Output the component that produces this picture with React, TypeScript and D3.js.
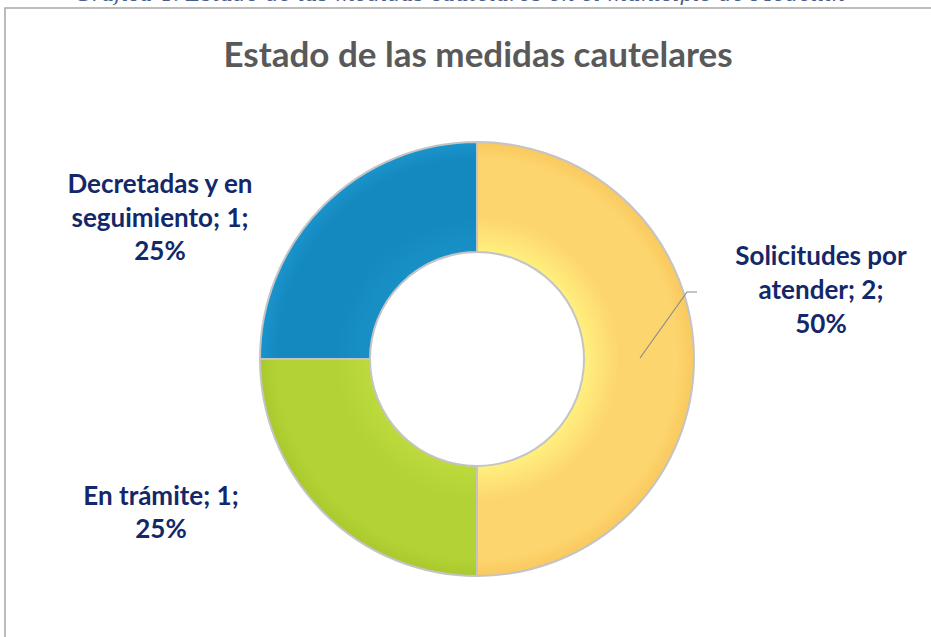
import React, { useEffect, useRef } from 'react';
import * as d3 from 'd3';

const categories = ['Solicitudes por atender', 'En trámite', 'Decretadas y en seguimiento'];
const values = [2, 1, 1];
const percents = ['50%', '25%', '25%'];
const labelLines = [
  ['Solicitudes por', 'atender; 2;', '50%'],
  ['En trámite; 1;', '25%'],
  ['Decretadas y en', 'seguimiento; 1;', '25%'],
];
const sliceColors = ['#FDD56E', '#B2D235', '#1489BF'];
const sliceLight = ['#FFF07E', '#BCDA3C', '#1890C6'];
const sliceDark = ['#F9C95E', '#A9C92E', '#1A93CC'];

const title = 'Estado de las medidas cautelares';
const caption = 'Gráfica 4. Estado de las medidas cautelares en el municipio de Medellín';

const App: React.FC = () => {
  const svgRef = useRef<SVGSVGElement>(null);

  useEffect(() => {
    if (!svgRef.current) return;
    const width = 931;
    const height = 637;
    const cx = 477;
    const cy = 359;
    const outerR = 217;
    const innerR = 107;
    const font = 'Lato, "Open Sans", sans-serif';
    const labelColor = '#13286A';

    const svg = d3.select(svgRef.current);
    svg.selectAll('*').remove();
    svg.attr('width', width).attr('height', height).attr('viewBox', `0 0 ${width} ${height}`);

    svg.append('rect').attr('width', width).attr('height', height).attr('fill', '#fff');

    // caption above the chart, mostly cut off like in the source
    svg.append('text')
      .attr('x', 75)
      .attr('y', 1)
      .attr('textLength', 770)
      .style('font-family', '"DejaVu Serif", serif')
      .style('font-style', 'italic')
      .style('font-size', '21px')
      .style('fill', '#4A5E8C')
      .text(caption);

    // chart frame
    svg.append('rect')
      .attr('x', 5)
      .attr('y', 8)
      .attr('width', width + 20)
      .attr('height', height + 20)
      .attr('fill', 'none')
      .attr('stroke', '#A6A6A6')
      .attr('stroke-width', 1.5);

    svg.append('text')
      .attr('x', cx + 1)
      .attr('y', 67)
      .attr('text-anchor', 'middle')
      .style('font-family', font)
      .style('font-weight', 'bold')
      .style('font-size', '35px')
      .style('fill', '#595959')
      .text(title);

    const defs = svg.append('defs');
    sliceColors.forEach((c, i) => {
      const g = defs.append('radialGradient')
        .attr('id', `grad${i}`)
        .attr('gradientUnits', 'userSpaceOnUse')
        .attr('cx', 0)
        .attr('cy', 0)
        .attr('r', outerR);
      g.append('stop').attr('offset', innerR / outerR).attr('stop-color', sliceLight[i]);
      g.append('stop').attr('offset', (innerR + 35) / outerR).attr('stop-color', c);
      g.append('stop').attr('offset', 0.92).attr('stop-color', c);
      g.append('stop').attr('offset', 1).attr('stop-color', sliceDark[i]);
    });

    const data = categories.map((name, i) => ({ name, value: values[i], pct: percents[i], i }));
    const pie = d3.pie<any>().sort(null).value(d => d.value);
    const arc = d3.arc<any>().innerRadius(innerR).outerRadius(outerR);

    const g = svg.append('g').attr('transform', `translate(${cx},${cy})`);
    g.selectAll('path')
      .data(pie(data))
      .join('path')
      .attr('d', arc)
      .attr('fill', (d: any) => `url(#grad${d.data.i})`)
      .attr('stroke', '#C4C4C4')
      .attr('stroke-width', 2)
      .attr('stroke-linejoin', 'round');

    // leader line for the big slice
    svg.append('polyline')
      .attr('points', `${cx + 163},${cy - 1} ${cx + 210},${cy - 67} ${cx + 220},${cy - 67}`)
      .attr('fill', 'none')
      .attr('stroke', '#8C8C8C')
      .attr('stroke-width', 1.2);

    const labelPos = [
      { x: 821, y: 265, dy: 34 },
      { x: 161, y: 505, dy: 33 },
      { x: 160, y: 193, dy: 33.5 },
    ];
    data.forEach((d, i) => {
      const t = svg.append('text')
        .attr('text-anchor', 'middle')
        .style('font-family', font)
        .style('font-weight', 'bold')
        .style('font-size', '26px')
        .style('fill', labelColor);
      labelLines[i].forEach((line, j) => {
        t.append('tspan')
          .attr('x', labelPos[i].x)
          .attr('y', labelPos[i].y + j * labelPos[i].dy)
          .text(line);
      });
    });
  }, []);

  return (
    <div style={{ position: 'absolute', left: 0, top: 0 }}>
      <svg ref={svgRef} style={{ display: 'block' }}></svg>
    </div>
  );
};

export default App;
